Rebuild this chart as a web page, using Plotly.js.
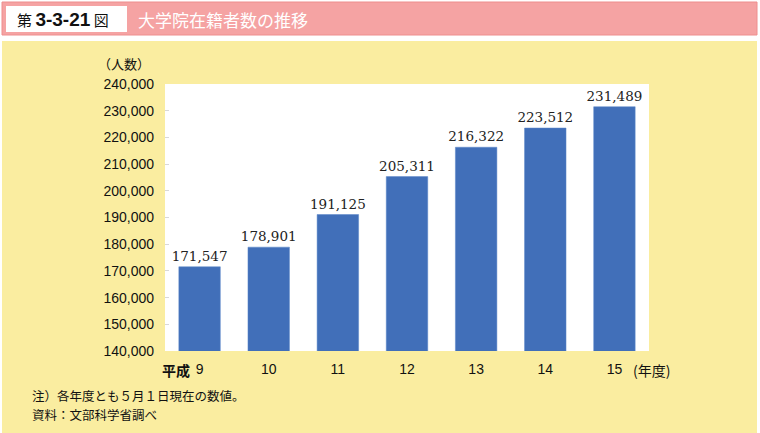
<!DOCTYPE html>
<html><head><meta charset="utf-8">
<script src="https://cdn.plot.ly/plotly-3.0.1.min.js"></script>
<style>html,body{margin:0;padding:0;background:#fff}#c{width:760px;height:433px}</style>
</head><body><div id="c"></div>
<script>
const years = ["9","10","11","12","13","14","15"];
const students = [171547, 178901, 191125, 205311, 216322, 223512, 231489];
const valueLabels = ["171,547","178,901","191,125","205,311","216,322","223,512","231,489"];
const yTicks = [140000,150000,160000,170000,180000,190000,200000,210000,220000,230000,240000];
const yTickText = ["140,000","150,000","160,000","170,000","180,000","190,000","200,000","210,000","220,000","230,000","240,000"];

const jp = '"Noto Sans CJK JP", sans-serif';
const trace = {
  type:'bar', x: years, y: students,
  marker:{color:'#416FB9', line:{color:'#5b86c8', width:0.5}},
  text: valueLabels, textposition:'outside', cliponaxis:false, constraintext:'none',
  textfont:{family:'"DejaVu Serif", "Liberation Serif", serif', size:13.5, color:'#222'},
  hoverinfo:'none'
};
const PW = 484, PH = 267;
const px = v => (v-165)/PW;
const py = v => (351-v)/PH;
const layout = {
  width:760, height:433,
  margin:{l:165, r:111, t:84, b:82},
  paper_bgcolor:'#FAEDA0', plot_bgcolor:'rgba(0,0,0,0)',
  bargap:0.4, showlegend:false,
  xaxis:{type:'category', tickfont:{family:'Arial, "Liberation Sans", sans-serif', size:14, color:'#111'},
         ticks:'', showline:false, zeroline:false, ticklabelstandoff:8},
  yaxis:{range:[140000,240000], tickvals:yTicks, ticktext:yTickText, showgrid:false, zeroline:false,
         ticks:'inside', ticklen:4, tickcolor:'#d8d8d8', showline:false,
         tickfont:{family:'Arial, "Liberation Sans", sans-serif', size:14, color:'#111'}, ticklabelstandoff:10},
  shapes:[
    {type:'rect', xref:'paper', yref:'paper', x0:px(-5), x1:px(765), y0:py(41), y1:py(-5),
     fillcolor:'#ffffff', line:{width:0}, layer:'below'},
    {type:'rect', xref:'paper', yref:'paper', x0:px(-5), x1:px(2), y0:py(440), y1:py(-5),
     fillcolor:'#ffffff', line:{width:0}, layer:'below'},
    {type:'rect', xref:'paper', yref:'paper', x0:px(757), x1:px(765), y0:py(440), y1:py(-5),
     fillcolor:'#ffffff', line:{width:0}, layer:'below'},
    {type:'rect', xref:'paper', yref:'paper', x0:0, x1:1, y0:0, y1:1,
     fillcolor:'#ffffff', line:{width:0}, layer:'below'},
    {type:'rect', xref:'paper', yref:'paper', x0:px(2), x1:px(757), y0:py(35), y1:py(2),
     fillcolor:'#F5A3A3', line:{color:'#EE8E8E', width:1}, layer:'below'},
    {type:'rect', xref:'paper', yref:'paper', x0:px(6), x1:px(127), y0:py(32), y1:py(6),
     fillcolor:'#ffffff', line:{width:0}, layer:'below'}
  ],
  annotations:[
    {xref:'paper', yref:'paper', x:px(15), y:py(19), xanchor:'left', yanchor:'middle', showarrow:false,
     text:'第 <b><span style="font-family:Arial;font-size:19px">3-3-21</span></b> 図', font:{family:jp, size:15, color:'#111'}},
    {xref:'paper', yref:'paper', x:px(136), y:py(19), xanchor:'left', yanchor:'middle', showarrow:false,
     text:'大学院在籍者数の推移', font:{family:jp, size:17, color:'#ffffff'}},
    {xref:'paper', yref:'paper', x:px(152), y:py(63), xanchor:'right', yanchor:'middle', showarrow:false,
     text:'（人数）', font:{family:jp, size:13, color:'#111'}},
    {xref:'paper', yref:'paper', x:px(192), y:py(370), xanchor:'right', yanchor:'middle', showarrow:false,
     text:'<b>平成</b>', font:{family:jp, size:14, color:'#111'}},
    {xref:'paper', yref:'paper', x:px(631), y:py(370), xanchor:'left', yanchor:'middle', showarrow:false,
     text:'(年度)', font:{family:jp, size:14, color:'#111'}},
    {xref:'paper', yref:'paper', x:px(30), y:py(395), xanchor:'left', yanchor:'middle', showarrow:false,
     text:'注）各年度とも５月１日現在の数値。', font:{family:jp, size:12.5, color:'#111'}},
    {xref:'paper', yref:'paper', x:px(30), y:py(414), xanchor:'left', yanchor:'middle', showarrow:false,
     text:'資料：文部科学省調べ', font:{family:jp, size:12.5, color:'#111'}}
  ]
};
Plotly.newPlot('c', [trace], layout, {staticPlot:true, displayModeBar:false});
</script></body></html>
